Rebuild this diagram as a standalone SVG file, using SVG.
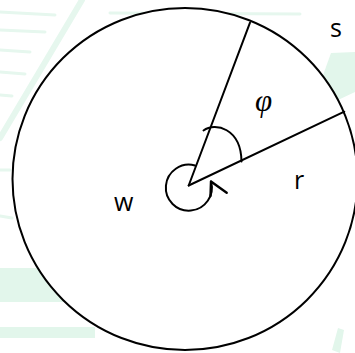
<svg xmlns="http://www.w3.org/2000/svg" width="355" height="353" viewBox="0 0 355 353">
  <style>
    .wm { fill: #e2f6eb; }
    .wml { stroke: #e6f7ee; stroke-width: 3; fill: none; stroke-linecap: round; }
    .ln { stroke: #000; stroke-width: 2; fill: none; stroke-linecap: round; stroke-linejoin: round; }
    .lbl { font-family: "Open Sans", "Liberation Sans", sans-serif; font-size: 25px; fill: #000; }
    .greek { font-family: "Liberation Serif", serif; font-style: italic; font-size: 31px; fill: #000; }
  </style>
  <rect width="355" height="353" fill="#fff"/>
  <g id="watermark">
    <path class="wml" d="M82,0 L0,138" style="stroke-width:6"/>
    <path class="wml" d="M0,12 L55,15 M0,30 L45,32 M0,50 L30,52 M0,72 L25,74 M0,95 L12,96 M110,13 L300,14 M0,170 L10,170 M0,216 L12,218"/>
    <polygon class="wm" points="331,53 355,52 355,92 338,100 322,78"/>
    <rect class="wm" x="0" y="268" width="70" height="34"/>
    <rect class="wm" x="0" y="327" width="95" height="11"/>
    <path class="wm" d="M332,350 L338,328 L344,330 L340,353 Z"/>
  </g>
  <g id="circle-node">
    <ellipse cx="185" cy="179" rx="172.5" ry="171" fill="#fff" stroke="#000" stroke-width="2"/>
  </g>
  <g id="connectors">
    <path class="ln" d="M188.7,185.5 L250,22.7"/>
    <path class="ln" d="M188.7,185.5 L344.3,111.7"/>
    <path class="ln" d="M203.5,130.5 C215,122 241,128 241.5,161.5"/>
    <path class="ln" d="M195,165.5 A23,23 0 1 0 211,181.5"/>
    <path class="ln" d="M226.7,192.7 L211,181.5 L210.5,196" style="stroke-width:2.4"/>
  </g>
  <g id="label-s"><text class="lbl" x="330" y="37">s</text></g>
  <g id="label-phi"><text class="greek" x="255" y="111">φ</text></g>
  <g id="label-r"><text class="lbl" x="294" y="189">r</text></g>
  <g id="label-w"><text class="lbl" x="114" y="211">w</text></g>
</svg>
